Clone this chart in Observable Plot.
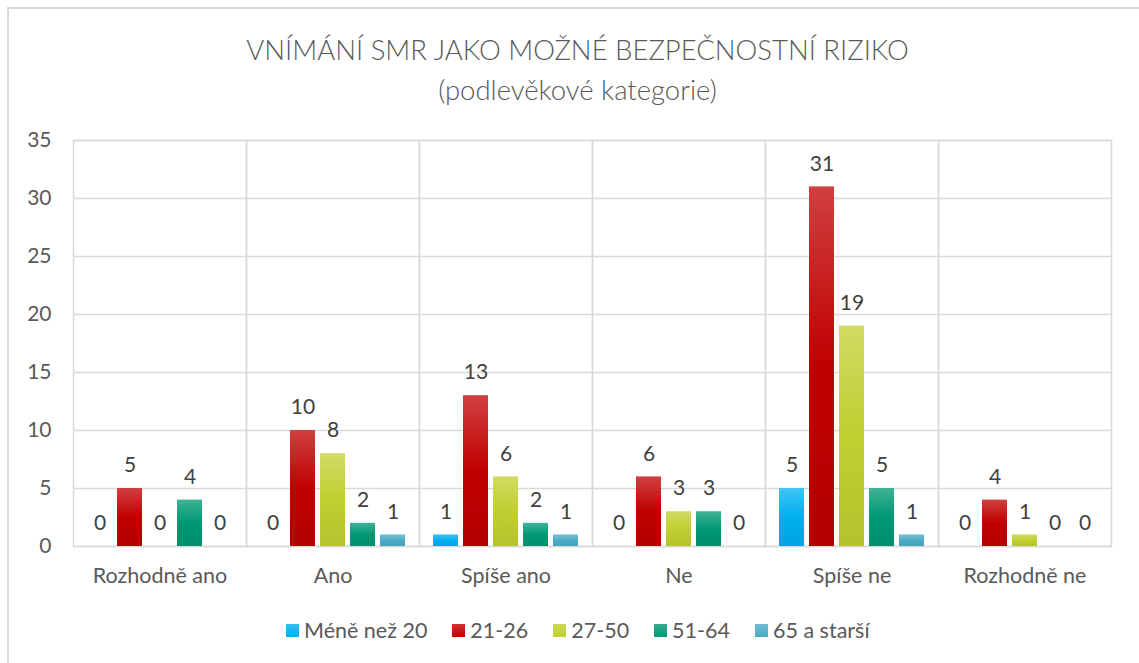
<!DOCTYPE html>
<html>
<head>
<meta charset="utf-8">
<script src="https://cdn.jsdelivr.net/npm/d3@7"></script>
<script src="https://cdn.jsdelivr.net/npm/@observablehq/plot@0.6"></script>
<style>
  html, body { margin: 0; padding: 0; background: #fff; overflow: hidden; }
  body { width: 1139px; height: 663px; position: relative; font-family: Lato, "Open Sans", sans-serif; }
  #frame { position: absolute; left: 7px; top: 7px; width: 1150px; height: 670px; border-top: 2px solid #d9d9d9; border-left: 2px solid #d9d9d9; }
  #title { position: absolute; left: 0; width: 1155px; top: 30px; text-align: center; color: #595959; font-size: 27.5px; font-weight: 300; line-height: 40px; }
  #chart { position: absolute; left: 0; top: 120px; }
  #legend { position: absolute; left: 286px; top: 616px; height: 28px; display: flex; align-items: center; gap: 25px; color: #595959; font-size: 21.5px; }
  #legend .item { display: flex; align-items: center; gap: 5px; }
  #legend .sw { width: 13px; height: 13px; display: inline-block; }
</style>
</head>
<body>
<div id="frame"></div>
<div id="title">VNÍMÁNÍ SMR JAKO MOŽNÉ BEZPEČNOSTNÍ RIZIKO<br>(podlevěkové kategorie)</div>
<div id="chart"></div>
<div id="legend"></div>
<script>
const categories = ["Rozhodně ano", "Ano", "Spíše ano", "Ne", "Spíše ne", "Rozhodně ne"];
const series = ["Méně než 20", "21-26", "27-50", "51-64", "65 a starší"];
const menNez20 = [0, 0, 1, 0, 5, 0];
const v21_26 = [5, 10, 13, 6, 31, 4];
const v27_50 = [0, 8, 6, 3, 19, 1];
const v51_64 = [4, 2, 2, 3, 5, 0];
const v65 = [0, 1, 1, 0, 1, 0];
const yTicks = [0, 5, 10, 15, 20, 25, 30, 35];

const seriesValues = [menNez20, v21_26, v27_50, v51_64, v65];
const baseColors = ["#00b0f0", "#c00000", "#c0cf30", "#009873", "#4bacc6"];

const data = [];
categories.forEach((c, i) => {
  series.forEach((s, j) => {
    data.push({category: c, series: s, value: seriesValues[j][i]});
  });
});

const gradIds = series.map((s, j) => `grad${j}`);

const plot = Plot.plot({
  width: 1139,
  height: 480,
  marginTop: 20,
  marginBottom: 54,
  marginLeft: 72,
  marginRight: 27,
  style: {fontFamily: "Lato, 'Open Sans', sans-serif", color: "#595959", background: "transparent"},
  fx: {domain: categories, padding: 0, label: null},
  x: {domain: series, paddingInner: 0.16, paddingOuter: 0.39, axis: null},
  y: {domain: [0, 35], label: null},
  color: {domain: series, range: gradIds.map(id => `url(#${id})`)},
  marks: [
    Plot.gridY(yTicks, {stroke: "#d9d9d9", strokeOpacity: 1, strokeWidth: 1.5}),
    Plot.frame({stroke: "#d9d9d9", strokeWidth: 1.5}),
    Plot.axisY(yTicks, {tickSize: 0, tickPadding: 22, fontSize: 21, label: null}),
    Plot.axisFx({anchor: "bottom", tickSize: 0, tickPadding: 21, fontSize: 21.5, label: null}),
    Plot.barY(data, {fx: "category", x: "series", y: "value", fill: "series"}),
    Plot.text(data, {fx: "category", x: "series", y: "value", text: d => String(d.value), dy: -23, fill: "#404040", fontSize: 21})
  ]
});

// gradient definitions
const ns = "http://www.w3.org/2000/svg";
const defs = document.createElementNS(ns, "defs");
function mix(c, t, k) {
  const a = d3.rgb(c), b = d3.rgb(t);
  return d3.rgb(a.r + (b.r - a.r) * k, a.g + (b.g - a.g) * k, a.b + (b.b - a.b) * k).formatHex();
}
baseColors.forEach((c, j) => {
  const g = document.createElementNS(ns, "linearGradient");
  g.setAttribute("id", gradIds[j]);
  g.setAttribute("x1", "0"); g.setAttribute("y1", "0");
  g.setAttribute("x2", "0"); g.setAttribute("y2", "1");
  [[0, mix(c, "#ffffff", 0.25)], [0.5, c], [1, mix(c, "#000000", 0.06)]].forEach(([o, col]) => {
    const st = document.createElementNS(ns, "stop");
    st.setAttribute("offset", o);
    st.setAttribute("stop-color", col);
    g.appendChild(st);
  });
  defs.appendChild(g);
});
plot.insertBefore(defs, plot.firstChild);
document.getElementById("chart").appendChild(plot);

// legend
const legend = document.getElementById("legend");
series.forEach((s, j) => {
  const item = document.createElement("span");
  item.className = "item";
  const sw = document.createElement("span");
  sw.className = "sw";
  sw.style.background = `linear-gradient(${mix(baseColors[j], "#ffffff", 0.2)}, ${baseColors[j]})`;
  const t = document.createElement("span");
  t.textContent = s;
  item.appendChild(sw); item.appendChild(t);
  legend.appendChild(item);
});
</script>
</body>
</html>
